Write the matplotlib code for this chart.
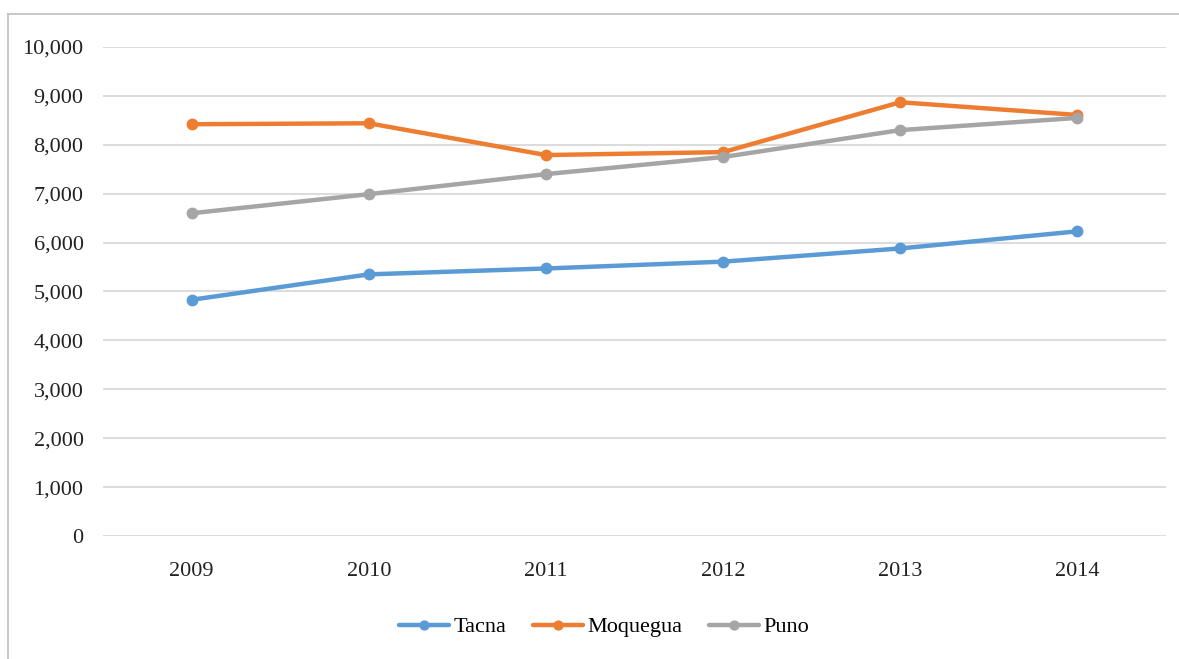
import matplotlib.pyplot as plt
from matplotlib.lines import Line2D
from matplotlib.ticker import FuncFormatter

years = ["2009", "2010", "2011", "2012", "2013", "2014"]
tacna = [4830, 5350, 5470, 5610, 5880, 6230]
moquegua = [8420, 8440, 7790, 7850, 8870, 8610]
puno = [6600, 6990, 7400, 7750, 8300, 8550]

plt.rcParams['font.family'] = ['Liberation Serif', 'DejaVu Serif']

fig = plt.figure(figsize=(11.79, 6.59), dpi=100)
ax = fig.add_axes([0.0874, 0.1867, 0.9016, 0.742])

x = range(len(years))
series = [("Tacna", tacna, "#5B9BD5"),
          ("Moquegua", moquegua, "#ED7D31"),
          ("Puno", puno, "#A5A5A5")]
for name, vals, col in series:
    ax.plot(x, vals, color=col, lw=3.2, marker="o", markersize=7.5,
            solid_capstyle="round", label=name, zorder=3)

ax.set_xlim(-0.5, len(years) - 0.5)
ax.set_ylim(0, 10000)
ax.set_yticks(range(0, 10001, 1000))
ax.yaxis.set_major_formatter(FuncFormatter(lambda v, p: "{:,.0f}".format(v)))
ax.set_xticks(list(x))
ax.set_xticklabels(years)
ax.tick_params(axis="both", length=0, labelsize=16, colors="#222222")
ax.tick_params(axis="y", pad=14)
ax.tick_params(axis="x", pad=19)
ax.grid(axis="y", color="#DCDCDC", lw=1.5, zorder=0)
for s in ax.spines.values():
    s.set_visible(False)

# outer chart border (top and left visible)
fig.add_artist(Line2D([8 / 1179, 1.0], [1 - 14 / 659] * 2, color="#BFBFBF", lw=1.2))
fig.add_artist(Line2D([8 / 1179] * 2, [0.0, 1 - 14 / 659], color="#BFBFBF", lw=1.2))

fig.legend(loc="center", bbox_to_anchor=(604 / 1179, 1 - 627 / 659), ncol=3,
           frameon=False, fontsize=16, handlelength=2.25, handletextpad=0.2,
           columnspacing=1.2, markerscale=0.85)

fig.savefig("out.png", dpi=100, facecolor="white")
